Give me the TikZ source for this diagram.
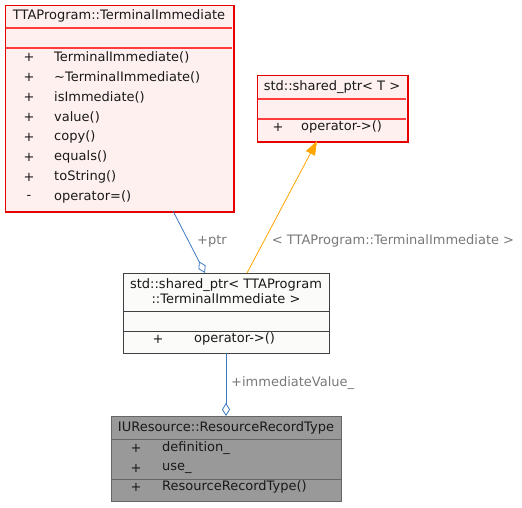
\documentclass[tikz,border=0pt]{standalone}
\usepackage{fontspec}
\setmainfont{DejaVu Sans}
\usetikzlibrary{arrows.meta,positioning,calc}
\definecolor{classpink}{RGB}{255,240,240}
\definecolor{classred}{RGB}{230,0,0}
\definecolor{sepred}{RGB}{255,60,60}
\definecolor{classwhite}{RGB}{251,252,250}
\definecolor{classdark}{RGB}{64,64,64}
\definecolor{classgray}{RGB}{153,153,153}
\definecolor{classgrayline}{RGB}{102,102,102}
\definecolor{edgeblue}{RGB}{60,120,190}
\definecolor{edgeorange}{RGB}{255,165,0}
\definecolor{labelgray}{RGB}{120,120,120}

\tikzset{
  umlbox/.style={anchor=north west, inner sep=0pt, line width=1pt},
  redbox/.style={umlbox, color=classred, fill=classpink, draw},
  umltext/.style={inner sep=0pt, font=\fontsize{13}{15}\selectfont, text=black!90},
  umlmember/.style={umltext, anchor=west},
  edgelabel/.style={inner sep=0pt, font=\fontsize{13}{15}\selectfont, text=labelgray},
}

\begin{document}
\begin{tikzpicture}[x=1pt,y=-1pt]
    \useasboundingbox (0,0) rectangle (522,507);
    % TTAProgram::TerminalImmediate
    \node[redbox, minimum width=228pt, minimum height=206pt] (term) at (5,5) {};
    \draw[sepred, line width=1.4pt] (6,28) -- (232,28) (6,48) -- (232,48);
    \draw[classred, line width=1pt] (term.north west) rectangle (term.south east);
    \node[umltext] (termtitle) at (119,16) {TTAProgram::TerminalImmediate};
    \foreach \vis/\name [count=\i from 0] in {+/TerminalImmediate(), +/\textasciitilde TerminalImmediate(), +/isImmediate(), +/value(), +/copy(), +/equals(), +/toString(), -/operator=()} {
        \node[umltext] (termvis\i) at (29,57+20*\i) {\vis};
        \node[umlmember] (termop\i) at (54,57+20*\i) {\name};
    }
    % std::shared_ptr< T >
    \node[redbox, minimum width=150pt, minimum height=66pt] (tmpl) at (257,75) {};
    \draw[sepred, line width=1.4pt] (258,99) -- (406,99) (258,119) -- (406,119);
    \draw[classred, line width=1pt] (tmpl.north west) rectangle (tmpl.south east);
    \node[umltext] (tmpltitle) at (332,87) {std::shared\_ptr< T >};
    \node[umltext] (tmplvis) at (278,127) {+};
    \node[umlmember] (tmplop) at (301,127) {operator->()};
    % std::shared_ptr< TTAProgram::TerminalImmediate >
    \node[umlbox, fill=classwhite, draw=classdark, minimum width=206pt, minimum height=80pt] (sptr) at (123,273) {};
    \draw[classdark, line width=1pt] (123,311) -- (329,311) (123,331) -- (329,331);
    \node[umltext] (sptrtitle1) at (226,285) {std::shared\_ptr< TTAProgram};
    \node[umltext] (sptrtitle2) at (226,299) {::TerminalImmediate >};
    \node[umltext] (sptrvis) at (158,339) {+};
    \node[umlmember] (sptrop) at (194,339) {operator->()};
    % IUResource::ResourceRecordType
    \node[umlbox, fill=classgray, draw=classgrayline, minimum width=230pt, minimum height=85pt] (rrt) at (111,416) {};
    \draw[classgrayline, line width=1pt] (111,439) -- (341,439) (111,479) -- (341,479);
    \node[umltext] (rrttitle) at (226,428) {IUResource::ResourceRecordType};
    \foreach \name/\y [count=\i] in {definition\_/448, use\_/468, ResourceRecordType()/487} {
        \node[umltext] (rrtvis\i) at (136,\y) {+};
        \node[umlmember] (rrtmem\i) at (162,\y) {\name};
    }
    % connector end points
    \coordinate (termout) at (173,211);
    \coordinate (sptrin) at (205,273);
    \coordinate (sptrout) at (247,273);
    \coordinate (tmplin) at (317,141);
    \coordinate (sptrdown) at (226,353);
    \coordinate (rrtin) at (226,416);
    % connectors
    \draw[edgeblue, line width=0.8pt, -{Diamond[open, length=13pt, width=8pt]}] (termout) -- (sptrin);
    \draw[edgeorange, line width=0.8pt, -{Triangle[length=14pt, width=10pt]}] (sptrout) -- (tmplin);
    \draw[edgeblue, line width=0.8pt, -{Diamond[open, length=13pt, width=8pt]}] (sptrdown) -- (rrtin);
    % labels
    \node[edgelabel] (ptrlabel) at (212,241) {+ptr};
    \node[edgelabel] (tmpllabel) at (393,241) {< TTAProgram::TerminalImmediate >};
    \node[edgelabel, anchor=west] (valuelabel) at (231,383) {+immediateValue\_};
\end{tikzpicture}
\end{document}
